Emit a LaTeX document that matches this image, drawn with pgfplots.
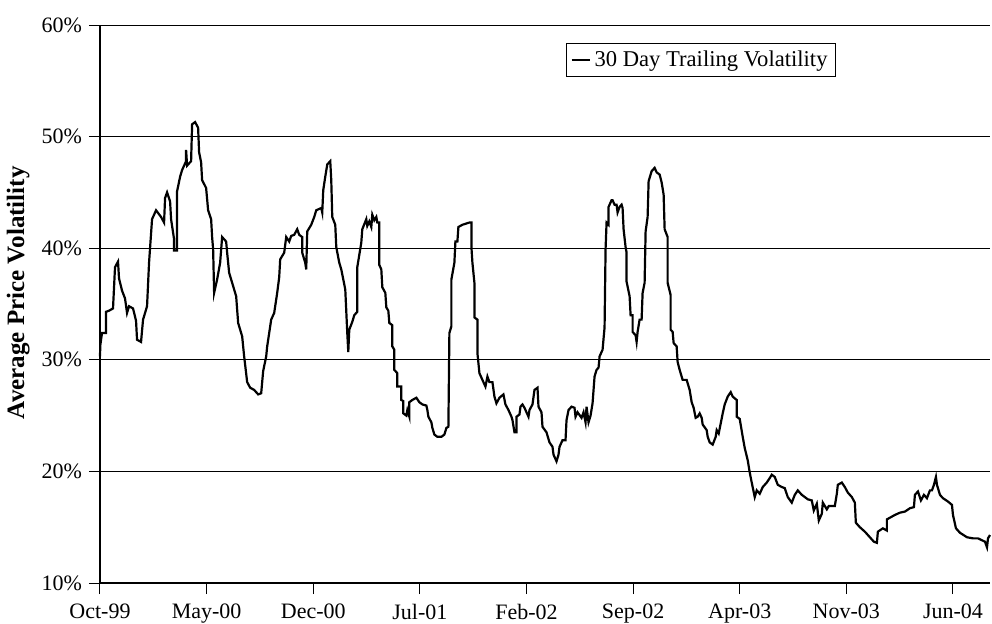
\documentclass[border=0pt]{standalone}
\usepackage{pgfplots}
\pgfplotsset{compat=1.18}
\usepackage{fontspec}
\setmainfont{Liberation Serif}
\begin{document}
\begin{tikzpicture}
\useasboundingbox (-50pt,-20pt) rectangle (446pt,291.5pt);
\begin{axis}[
  scale only axis, width=445pt, height=279pt,
  xmin=101, xmax=990, ymin=10, ymax=60,
  axis x line*=bottom, axis y line*=left,
  axis line style={-, black, line width=0.6pt},
  ytick={10,20,...,60},
  yticklabel={\pgfmathprintnumber{\tick}\%},
  /pgf/number format/assume math mode=true,
  ymajorgrids, grid style={black, line width=0.5pt},
  xtick={101,207.5,314,420.5,527,633.5,740,846.5,953},
  xticklabels={Oct-99,May-00,Dec-00,Jul-01,Feb-02,Sep-02,Apr-03,Nov-03,Jun-04},
  tick align=outside, major tick length=5.5pt, tick style={black, line width=0.5pt},
  ticklabel style={font=\fontsize{11}{13}\selectfont},
  xticklabel style={yshift=-1.5pt},
  ylabel={Average Price Volatility},
  ylabel style={font=\fontsize{12.5}{14}\selectfont\bfseries, at={(axis description cs:-0.092,0.52)}, anchor=center},
  legend style={at={(0.827,0.968)}, anchor=north east, draw=black, line width=0.5pt, font=\fontsize{11.3}{13}\selectfont, inner xsep=2pt, inner ysep=1.5pt},
  legend image code/.code={\draw[#1, line width=1pt] (0pt,0pt) -- (9pt,0pt);},
  clip=false,
]
\addplot[black, line width=1.1pt, line join=miter] table[row sep=\\] {
x y\\
101 30.3\\ 101.3 31.3\\ 103 32.4\\ 107 32.4\\ 107 34.3\\ 110 34.4\\ 114 34.6\\ 116 38.3\\ 119 38.8\\ 120 37.3\\
123 36.2\\ 126 35.5\\ 128 34.2\\ 130 34.8\\ 134 34.6\\ 137 33.5\\ 138 31.8\\ 142 31.6\\ 144 33.6\\ 148 34.8\\
150 38.7\\ 153 42.6\\ 157 43.4\\ 162 42.8\\ 165 42.3\\ 166 44.5\\ 168 45.0\\ 171 44.2\\ 172 42.6\\ 175 40.8\\
175 39.8\\ 178 39.8\\ 178 45.1\\ 181 46.4\\ 183 47.0\\ 187 47.8\\ 187 48.8\\ 188 47.4\\ 192 47.8\\ 193 51.1\\
196 51.3\\ 199 50.8\\ 200 48.6\\ 202 47.7\\ 203 46.1\\ 207 45.4\\ 209 43.4\\ 212 42.6\\ 213 41.0\\ 214 39.9\\
215 36.0\\ 218 37.2\\ 221 38.7\\ 223 41.0\\ 227 40.6\\ 228 39.6\\ 230 37.8\\ 233 36.9\\ 237 35.7\\ 239 33.3\\
243 32.1\\ 245 30.3\\ 248 28.0\\ 251 27.5\\ 255 27.3\\ 259 26.9\\ 262 27.0\\ 264 29.0\\ 267 30.3\\ 268 31.2\\
272 33.6\\ 275 34.2\\ 278 36.0\\ 280 37.4\\ 281 39.0\\ 285 39.6\\ 287 41.0\\ 290 40.6\\ 292 41.1\\ 295 41.2\\
298 41.7\\ 300 41.2\\ 303 41.0\\ 303 39.6\\ 306 38.7\\ 307 38.1\\ 308 41.5\\ 312 42.1\\ 315 42.8\\ 317 43.4\\
322 43.6\\ 323 43.2\\ 324 45.2\\ 326 46.4\\ 328 47.5\\ 331 47.8\\ 332 46.1\\ 333 42.8\\ 336 42.1\\ 337 40.1\\
340 38.7\\ 342 38.1\\ 346 36.3\\ 348 32.4\\ 349 30.7\\ 350 32.7\\ 353 33.4\\ 355 34.0\\ 358 34.3\\ 358 38.3\\
362 40.5\\ 363 41.7\\ 367 42.6\\ 368 42.0\\ 370 42.4\\ 372 41.9\\ 373 43.0\\ 375 42.5\\ 377 42.8\\ 378 42.3\\
380 42.3\\ 380 38.5\\ 382 38.1\\ 383 36.5\\ 386 36.0\\ 387 34.7\\ 389 34.4\\ 390 33.3\\ 393 33.1\\ 393 31.2\\
395 30.9\\ 395 29.1\\ 398 28.8\\ 398 27.6\\ 402 27.6\\ 402 26.4\\ 404 26.3\\ 404 25.2\\ 407 25.0\\ 408 25.5\\
410 24.9\\ 410 26.2\\ 413 26.4\\ 417 26.6\\ 420 26.2\\ 423 26.0\\ 427 25.9\\ 428 25.5\\ 429 24.9\\ 432 24.4\\
433 23.9\\ 435 23.3\\ 438 23.1\\ 442 23.1\\ 445 23.3\\ 447 23.9\\ 449 24.0\\ 450 32.4\\ 452 33.0\\ 452 37.2\\
455 38.7\\ 456 40.6\\ 458 40.6\\ 459 41.9\\ 463 42.1\\ 470 42.3\\ 472 42.3\\ 472 40.1\\ 473 38.7\\ 475 36.9\\
475 33.8\\ 478 33.6\\ 478 30.6\\ 480 28.8\\ 483 28.2\\ 486 27.6\\ 488 28.5\\ 490 28.0\\ 493 28.0\\ 495 26.7\\
497 26.1\\ 500 26.6\\ 504 26.9\\ 506 26.0\\ 509 25.5\\ 512 24.9\\ 513 24.6\\ 515 23.5\\ 517 23.5\\ 517 24.9\\
520 25.1\\ 521 25.8\\ 523 26.0\\ 525 25.7\\ 527 25.3\\ 529 24.9\\ 530 25.5\\ 533 26.0\\ 535 27.3\\ 538 27.5\\
539 25.8\\ 542 25.3\\ 543 24.0\\ 547 23.5\\ 550 22.6\\ 553 22.2\\ 554 21.5\\ 557 20.9\\ 559 21.5\\ 560 22.2\\
563 22.8\\ 566 22.8\\ 567 24.6\\ 569 25.5\\ 572 25.8\\ 575 25.7\\ 576 24.9\\ 578 25.3\\ 582 24.8\\ 584 25.3\\
586 24.4\\ 587 25.8\\ 589 24.4\\ 591 25.0\\ 593 26.1\\ 595 28.5\\ 597 29.1\\ 599 29.3\\ 600 30.3\\ 603 30.9\\
605 32.9\\ 606 39.9\\ 607 42.3\\ 609 42.1\\ 609 43.7\\ 612 44.3\\ 613 44.3\\ 615 43.9\\ 617 43.9\\ 618 43.2\\
620 43.7\\ 622 43.9\\ 623 43.6\\ 624 41.7\\ 626 40.1\\ 627 39.6\\ 627 37.0\\ 630 35.7\\ 631 34.0\\ 633 34.0\\
633 32.5\\ 636 32.2\\ 637 31.6\\ 638 32.5\\ 640 33.6\\ 642 33.6\\ 643 36.0\\ 645 36.9\\ 646 41.5\\ 648 42.8\\
649 46.0\\ 652 46.9\\ 655 47.2\\ 657 46.8\\ 660 46.6\\ 662 45.9\\ 664 44.8\\ 665 41.7\\ 668 41.0\\ 668 36.9\\
671 35.8\\ 671 32.7\\ 673 32.5\\ 674 31.5\\ 677 31.2\\ 678 29.8\\ 680 29.1\\ 683 28.2\\ 687 28.2\\ 690 27.3\\
692 26.2\\ 694 25.7\\ 696 24.8\\ 698 24.9\\ 700 25.2\\ 702 24.8\\ 703 24.2\\ 707 23.7\\ 708 23.1\\ 710 22.6\\
713 22.4\\ 716 23.1\\ 717 23.7\\ 719 23.4\\ 721 24.3\\ 723 25.2\\ 725 26.0\\ 728 26.7\\ 731 27.1\\ 733 26.7\\
737 26.4\\ 737 24.9\\ 740 24.7\\ 743 23.1\\ 745 22.1\\ 748 21.0\\ 750 19.9\\ 752 19.0\\ 755 17.7\\ 757 18.3\\
760 18.0\\ 763 18.6\\ 767 19.0\\ 770 19.4\\ 772 19.7\\ 775 19.5\\ 778 18.8\\ 782 18.6\\ 785 18.5\\ 788 17.7\\
792 17.2\\ 795 17.9\\ 798 18.3\\ 802 17.9\\ 805 17.7\\ 808 17.5\\ 812 17.4\\ 814 16.5\\ 817 17.1\\ 819 15.6\\
822 16.2\\ 823 17.2\\ 827 16.6\\ 829 16.9\\ 835 16.9\\ 837 18.0\\ 838 18.8\\ 842 19.0\\ 845 18.6\\ 848 18.1\\
852 17.7\\ 855 17.2\\ 856 15.4\\ 860 15.0\\ 865 14.6\\ 870 14.1\\ 874 13.7\\ 877 13.6\\ 878 14.6\\ 883 14.9\\
887 14.7\\ 887 15.7\\ 891 15.9\\ 895 16.1\\ 900 16.3\\ 905 16.4\\ 910 16.7\\ 914 16.8\\ 915 17.9\\ 918 18.2\\
921 17.4\\ 924 17.9\\ 927 17.6\\ 930 18.3\\ 932 18.3\\ 934 18.8\\ 936 19.5\\ 937 18.8\\ 940 17.9\\ 943 17.6\\
948 17.3\\ 952 17.0\\ 953 16.1\\ 956 14.9\\ 960 14.5\\ 967 14.1\\ 973 14.0\\ 978 14.0\\ 985 13.7\\ 987 13.2\\
988 14.0\\ 990 14.3\\
};
\addlegendentry{30 Day Trailing Volatility}
\end{axis}
\end{tikzpicture}
\end{document}
